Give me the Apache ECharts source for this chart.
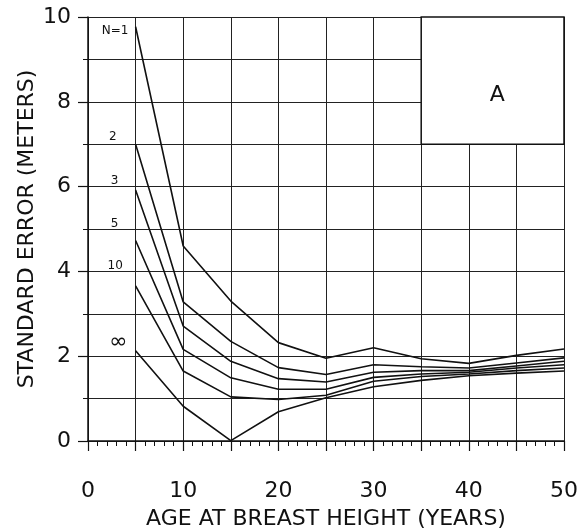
<!DOCTYPE html>
<html>
<head>
<meta charset="utf-8">
<script src="https://cdn.jsdelivr.net/npm/echarts@6/dist/echarts.min.js"></script>
<style>
  html, body { margin: 0; padding: 0; background: #fff; }
  #main { width: 579px; height: 531px; }
</style>
</head>
<body>
<div id="main"></div>
<script>
// ages at breast height (years)
var ages = [5, 10, 15, 20, 25, 30, 35, 40, 45, 50];
// standard error (m) for each number of samples N
var seN1  = [9.77, 4.60, 3.30, 2.32, 1.95, 2.20, 1.94, 1.83, 2.02, 2.17];
var seN2  = [7.00, 3.28, 2.35, 1.73, 1.57, 1.80, 1.75, 1.72, 1.84, 1.96];
var seN3  = [5.92, 2.71, 1.88, 1.47, 1.39, 1.62, 1.66, 1.66, 1.77, 1.88];
var seN5  = [4.73, 2.16, 1.49, 1.22, 1.22, 1.50, 1.58, 1.62, 1.72, 1.80];
var seN10 = [3.66, 1.65, 1.04, 0.98, 1.08, 1.41, 1.52, 1.58, 1.66, 1.72];
var seInf = [2.13, 0.82, 0.01, 0.69, 1.02, 1.28, 1.43, 1.54, 1.60, 1.65];

var curveNames = ['N=1', '2', '3', '5', '10', '∞'];
var curveLabelX = [2.85, 2.6, 2.8, 2.8, 2.85, 3.2];
var curveLabelY = [9.68, 7.17, 6.13, 5.11, 4.12, 2.32];

var FONT = 'DejaVu Sans';
var INK = '#111';

function pairs(ys) {
  return ys.map(function (v, i) { return [ages[i], v]; });
}

function curve(name, ys) {
  return {
    name: name,
    type: 'line',
    data: pairs(ys),
    symbol: 'none',
    silent: true,
    lineStyle: { color: INK, width: 1.6 },
    z: 3
  };
}

var labelData = curveNames.map(function (n, i) {
  return {
    name: n,
    value: [curveLabelX[i], curveLabelY[i]],
    label: { fontSize: n === '∞' ? 22 : 12 }
  };
});
labelData.push({ name: 'A', value: [43, 8.15], label: { fontSize: 22 } });

var myChart = echarts.init(document.getElementById('main'));
var option = {
  backgroundColor: '#fff',
  animation: false,
  grid: { left: 88, right: 15, top: 17, bottom: 90, outerBoundsMode: 'none', containLabel: false },
  xAxis: {
    type: 'value',
    min: 0,
    max: 50,
    interval: 5,
    offset: 4,
    name: 'AGE AT BREAST HEIGHT (YEARS)',
    nameLocation: 'middle',
    nameGap: 63,
    nameTextStyle: { fontFamily: FONT, fontSize: 22, color: INK },
    axisLine: { lineStyle: { color: INK, width: 1.5 } },
    axisTick: { length: 10, lineStyle: { color: INK, width: 1.2 } },
    minorTick: { show: true, splitNumber: 5, length: 5, lineStyle: { color: INK } },
    axisLabel: {
      fontFamily: FONT, fontSize: 22, color: INK, margin: 35,
      formatter: function (v) { return v % 10 === 0 ? v : ''; }
    },
    splitLine: { show: true, lineStyle: { color: '#222', width: 1 } }
  },
  yAxis: {
    type: 'value',
    min: 0,
    max: 10,
    interval: 2,
    name: 'STANDARD ERROR (METERS)',
    nameLocation: 'middle',
    nameGap: 50,
    nameMoveOverlap: false,
    nameTextStyle: { fontFamily: FONT, fontSize: 22, color: INK },
    axisLine: { show: true, lineStyle: { color: INK, width: 1.5 } },
    axisTick: { show: true, length: 10, lineStyle: { color: INK, width: 1.2 } },
    minorTick: { show: true, splitNumber: 2, length: 5, lineStyle: { color: INK } },
    axisLabel: { fontFamily: FONT, fontSize: 22, color: INK, margin: 17 },
    splitLine: { show: true, lineStyle: { color: '#222', width: 1 } },
    minorSplitLine: { show: true, lineStyle: { color: '#222', width: 1 } }
  },
  series: [
    curve('N=1', seN1),
    curve('N=2', seN2),
    curve('N=3', seN3),
    curve('N=5', seN5),
    curve('N=10', seN10),
    curve('N=inf', seInf),
    {
      name: 'box',
      type: 'line',
      data: [],
      silent: true,
      markArea: {
        silent: true,
        itemStyle: { color: '#fff', borderColor: INK, borderWidth: 1.5 },
        data: [[{ coord: [35, 10] }, { coord: [50, 7] }]]
      },
      z: 2
    },
    {
      name: 'labels',
      type: 'scatter',
      data: labelData,
      symbolSize: 0,
      silent: true,
      z: 5,
      itemStyle: { opacity: 1 },
      label: {
        show: true,
        position: 'inside',
        formatter: '{b}',
        fontFamily: FONT,
        color: INK,
        opacity: 1
      }
    }
  ]
};
myChart.setOption(option);

window.addEventListener('resize', function () {
  myChart.resize();
});
</script>
</body>
</html>
